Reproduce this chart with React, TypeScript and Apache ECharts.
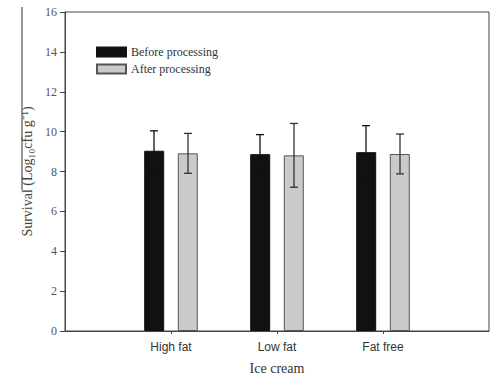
import React, { useEffect, useRef } from "react";
import * as echarts from "echarts";

const categories = ["High fat", "Low fat", "Fat free"];
const beforeValues = [9.04, 8.87, 8.97];
const beforeErrors = [1.0, 0.98, 1.33];
const afterValues = [8.91, 8.81, 8.88];
const afterErrors = [1.0, 1.6, 1.0];
const seriesNames = ["Before processing", "After processing"];

export default function App() {
  const ref = useRef<HTMLDivElement>(null);
  useEffect(() => {
    if (!ref.current) return;
    document.body.style.margin = "0";
    const chart = echarts.init(ref.current, null, { renderer: "svg" });
    // padded axis: blank slots on each side of the three categories
    const axisCats = ["", ...categories, ""];
    const pad = (arr: number[]) => [null, ...arr, null];
    const errData = (vals: number[], errs: number[]) =>
      vals.map((v, i) => [i + 1, v, errs[i]]);
    const offsets = [-17, 17];
    const colors = ["#111", "#333"];
    const mkErr = (idx: number, vals: number[], errs: number[]) => ({
      type: "custom",
      z: 5,
      silent: true,
      data: errData(vals, errs),
      renderItem: (params: any, api: any) => {
        const x = api.value(0);
        const v = api.value(1);
        const e = api.value(2);
        const top = api.coord([x, v + e]);
        const bot = api.coord([x, v - e]);
        const cx = top[0] + offsets[idx];
        const cap = 4;
        const style = { stroke: colors[idx], lineWidth: 1.3 };
        return {
          type: "group",
          children: [
            { type: "line", shape: { x1: cx, y1: top[1], x2: cx, y2: bot[1] }, style },
            { type: "line", shape: { x1: cx - cap, y1: top[1], x2: cx + cap, y2: top[1] }, style },
            { type: "line", shape: { x1: cx - cap, y1: bot[1], x2: cx + cap, y2: bot[1] }, style },
          ],
        };
      },
    });
    chart.setOption({
      animation: false,
      backgroundColor: "#fff",
      grid: { left: 65, top: 12, width: 446, height: 321, show: true, borderColor: "#444", borderWidth: 1 },
      legend: {
        orient: "vertical",
        left: 96,
        top: 46,
        padding: 0,
        itemWidth: 29,
        itemHeight: 9,
        itemGap: 5,
        icon: "rect",
        data: seriesNames,
        textStyle: { fontFamily: "Liberation Serif", fontSize: 12, color: "#333" },
      },
      xAxis: {
        type: "category",
        data: axisCats,
        boundaryGap: false,
        name: "Ice cream",
        nameLocation: "middle",
        nameGap: 30,
        nameTextStyle: { fontFamily: "Liberation Serif", fontSize: 14, color: "#333" },
        axisLine: { lineStyle: { color: "#444", width: 1 } },
        axisTick: {
          length: 3,
          interval: (i: number) => i >= 1 && i <= categories.length,
          lineStyle: { color: "#444" },
        },
        axisLabel: {
          interval: 0,
          margin: 10,
          fontFamily: "Liberation Sans",
          fontSize: 12,
          color: "#333",
        },
        splitLine: { show: false },
      },
      yAxis: {
        type: "value",
        min: 0,
        max: 16,
        interval: 2,
        name: "Survival (Log₁₀cfu g⁻¹)",
        nameLocation: "middle",
        nameGap: 31,
        nameTextStyle: { fontFamily: "Liberation Serif", fontSize: 14, color: "#444" },
        axisLine: { show: true, lineStyle: { color: "#444", width: 1 } },
        axisTick: { show: true, length: 5, lineStyle: { color: "#444" } },
        axisLabel: { margin: 8, fontFamily: "Liberation Serif", fontSize: 12, color: "#555" },
        splitLine: { show: false },
      },
      graphic: [
        {
          type: "line",
          shape: { x1: 22, y1: 7, x2: 22, y2: 190 },
          style: { stroke: "#333", lineWidth: 1 },
        },
      ],
      series: [
        {
          name: seriesNames[0],
          type: "bar",
          data: pad(beforeValues),
          barWidth: 20,
          barGap: "68%",
          itemStyle: { color: "#111", borderColor: "#111", borderWidth: 1 },
        },
        {
          name: seriesNames[1],
          type: "bar",
          data: pad(afterValues),
          barWidth: 20,
          barGap: "68%",
          itemStyle: { color: "#cacaca", borderColor: "#555", borderWidth: 1 },
        },
        mkErr(0, beforeValues, beforeErrors),
        mkErr(1, afterValues, afterErrors),
      ],
    });
    return () => chart.dispose();
  }, []);
  return <div ref={ref} style={{ width: 492, height: 380 }} />;
}
